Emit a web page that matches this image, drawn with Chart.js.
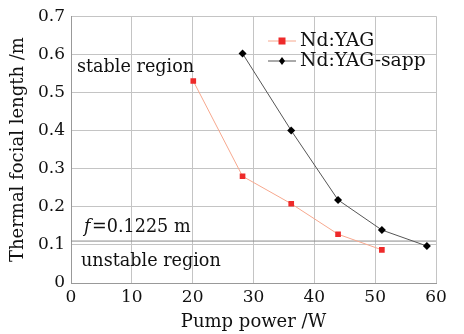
<!DOCTYPE html>
<html>
<head>
<meta charset="utf-8">
<script src="https://cdn.jsdelivr.net/npm/chart.js@4"></script>
<style>
  html, body { margin: 0; padding: 0; background: #fff; }
  #wrap { width: 464px; height: 334px; }
</style>
</head>
<body>
<div id="wrap"><canvas id="chart" width="464" height="334"></canvas></div>
<script>
// pump power (W) and thermal focal length (m)
const yagPower = [20.1, 28.2, 36.2, 43.9, 51.1];
const yagFocal = [0.53, 0.28, 0.208, 0.128, 0.087];
const sappPower = [28.2, 36.2, 43.9, 51.1, 58.5];
const sappFocal = [0.602, 0.40, 0.218, 0.139, 0.097];
const limitX = [0, 60];
const limitY = [0.11, 0.11];
const xTicks = [0, 10, 20, 30, 40, 50, 60];
const yTicks = [0, 0.1, 0.2, 0.3, 0.4, 0.5, 0.6, 0.7];

const serif = '"DejaVu Serif", "Liberation Serif", serif';

const toPts = (xs, ys) => xs.map((x, i) => ({ x: x, y: ys[i] }));

// region labels + legend drawn on top of the plot
const annotate = {
  id: 'annotate',
  afterDatasetsDraw(chart) {
    const ctx = chart.ctx;
    ctx.save();
    ctx.fillStyle = '#111';
    ctx.textBaseline = 'middle';
    ctx.textAlign = 'left';
    ctx.font = '17.6px ' + serif;
    ctx.fillText('stable region', 77, 67);
    ctx.fillText('unstable region', 81, 261);
    ctx.font = 'italic 17.6px ' + serif;
    ctx.fillText('f', 84, 227);
    ctx.font = '17.6px ' + serif;
    ctx.fillText('=0.1225 m', 92, 227);

    // legend
    const lx = 268, lw = 28;
    const rows = [
      { y: 41, line: '#f7a88e', fill: '#ee2a2a', shape: 'square', text: 'Nd:YAG' },
      { y: 61, line: '#555', fill: '#000', shape: 'diamond', text: 'Nd:YAG-sapp' }
    ];
    rows.forEach(r => {
      ctx.strokeStyle = r.line;
      ctx.lineWidth = 1;
      ctx.beginPath();
      ctx.moveTo(lx, r.y);
      ctx.lineTo(lx + lw, r.y);
      ctx.stroke();
      ctx.fillStyle = r.fill;
      const cx = lx + lw / 2;
      if (r.shape === 'square') {
        ctx.fillRect(cx - 3.5, r.y - 3.5, 7, 7);
      } else {
        ctx.beginPath();
        ctx.moveTo(cx, r.y - 4);
        ctx.lineTo(cx + 3, r.y);
        ctx.lineTo(cx, r.y + 4);
        ctx.lineTo(cx - 3, r.y);
        ctx.closePath();
        ctx.fill();
      }
      ctx.fillStyle = '#111';
      ctx.font = '18.8px ' + serif;
      ctx.fillText(r.text, lx + lw + 4, r.y);
    });
    ctx.restore();
  }
};

new Chart(document.getElementById('chart').getContext('2d'), {
  type: 'scatter',
  data: {
    datasets: [
      {
        label: 'limit',
        data: toPts(limitX, limitY),
        showLine: true,
        borderColor: '#8a8a8a',
        borderWidth: 1,
        pointRadius: 0,
        order: 3
      },
      {
        label: 'Nd:YAG',
        data: toPts(yagPower, yagFocal),
        showLine: true,
        borderColor: '#f7a88e',
        borderWidth: 1,
        pointStyle: 'rect',
        pointRadius: 4,
        pointBackgroundColor: '#ee2a2a',
        pointBorderColor: '#ee2a2a',
        pointBorderWidth: 0,
        order: 1
      },
      {
        label: 'Nd:YAG-sapp',
        data: toPts(sappPower, sappFocal),
        showLine: true,
        borderColor: '#555',
        borderWidth: 1,
        pointStyle: 'rectRot',
        pointRadius: 4,
        pointBackgroundColor: '#000',
        pointBorderColor: '#000',
        pointBorderWidth: 0,
        order: 2
      }
    ]
  },
  options: {
    responsive: false,
    animation: false,
    layout: { padding: { left: 8, right: 28, top: 16, bottom: 1 } },
    plugins: {
      legend: { display: false },
      tooltip: { enabled: false }
    },
    scales: {
      x: {
        type: 'linear',
        min: 0,
        max: 60,
        afterBuildTicks: s => { s.ticks = xTicks.map(v => ({ value: v })); },
        grid: { color: '#c4c4c4', drawTicks: false },
        border: { color: '#999' },
        ticks: { color: '#111', font: { family: serif, size: 17 }, padding: 4 },
        title: { display: true, text: 'Pump power /W', color: '#111', font: { family: serif, size: 18 }, padding: { top: 0, bottom: 0 } }
      },
      y: {
        type: 'linear',
        min: 0,
        max: 0.7,
        afterBuildTicks: s => { s.ticks = yTicks.map(v => ({ value: v })); },
        afterFit: s => { s.width = 63; },
        grid: { color: '#c4c4c4', drawTicks: false },
        border: { color: '#999' },
        ticks: { color: '#111', font: { family: serif, size: 17 }, padding: 6, callback: v => (v === 0 ? '0' : v.toFixed(1)) },
        title: { display: true, text: 'Thermal focial length /m', color: '#111', font: { family: serif, size: 18 }, padding: { top: 0, bottom: 2 } }
      }
    }
  },
  plugins: [annotate]
});
</script>
</body>
</html>
